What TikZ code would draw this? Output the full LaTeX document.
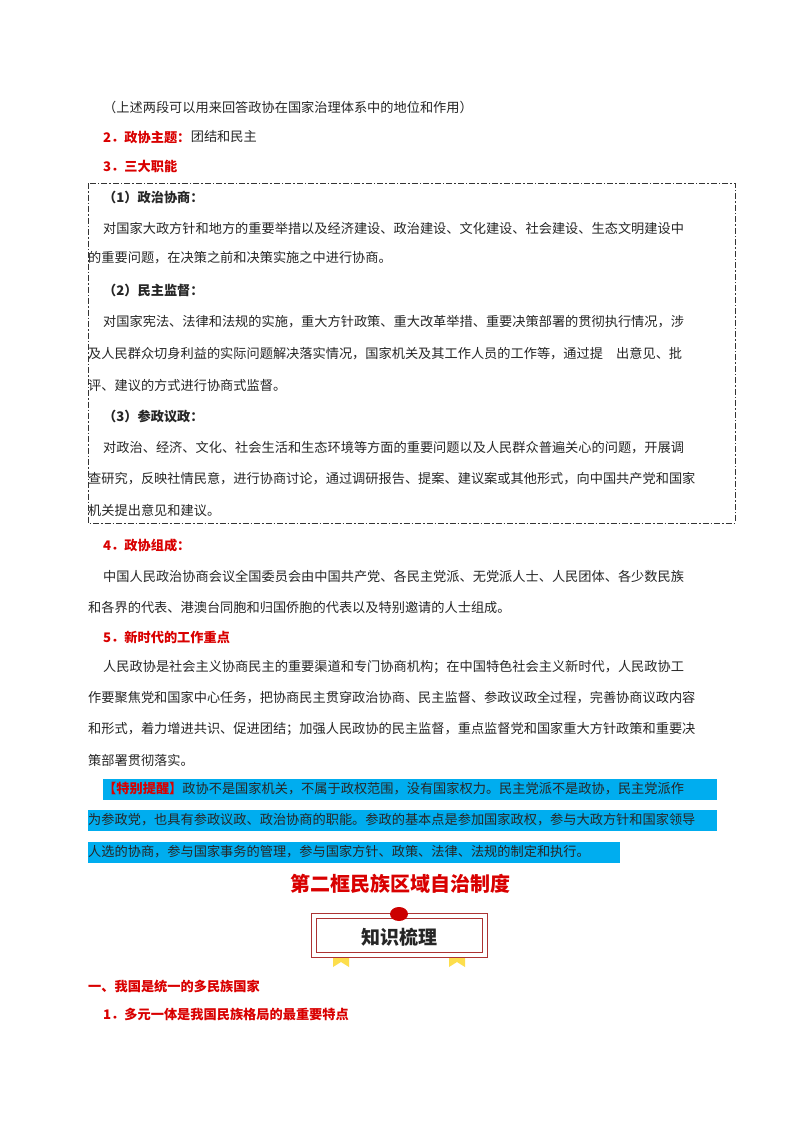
\documentclass[tikz,border=0pt]{standalone}
\usepackage{fontspec}
\setmainfont{Noto Sans CJK SC}
\begin{document}
\begin{tikzpicture}[x=1pt,y=-1pt,
  txt/.style={anchor=west,inner sep=0pt,font=\fontsize{13.2}{14}\selectfont,text=black!85},
  rd/.style={txt,text=red!85!black,font=\fontsize{13.2}{14}\selectfont\bfseries},
  hl/.style={fill=cyan}]
\useasboundingbox[fill=white] (0,0) rectangle (800,1132);
\node[txt] (l0) at (103,107) {（上述两段可以用来回答政协在国家治理体系中的地位和作用）};
\node[rd] (h2) at (103,137) {2．政协主题：};
\node[txt] (h2b) at (h2.east) {团结和民主};
\node[rd] (h3) at (103,166) {3．三大职能};
\draw[black!80,dash pattern=on 6pt off 2pt on 1.5pt off 2pt,line width=0.8pt] (88,183) rectangle (735,523);
\node[txt,font=\fontsize{13.2}{14}\selectfont\bfseries] (a1) at (103,197) {（1）政治协商：};
\node[txt] (a2) at (103,228) {对国家大政方针和地方的重要举措以及经济建设、政治建设、文化建设、社会建设、生态文明建设中};
\node[txt] (a3) at (88,258) {的重要问题，在决策之前和决策实施之中进行协商。};
\node[txt,font=\fontsize{13.2}{14}\selectfont\bfseries] (b1) at (103,290) {（2）民主监督：};
\node[txt] (b2) at (103,322) {对国家宪法、法律和法规的实施，重大方针政策、重大改革举措、重要决策部署的贯彻执行情况，涉};
\node[txt] (b3) at (88,354) {及人民群众切身利益的实际问题解决落实情况，国家机关及其工作人员的工作等，通过提\quad 出意见、批};
\node[txt] (b4) at (88,385) {评、建议的方式进行协商式监督。};
\node[txt,font=\fontsize{13.2}{14}\selectfont\bfseries] (c1) at (103,416) {（3）参政议政：};
\node[txt] (c2) at (103,448) {对政治、经济、文化、社会生活和生态环境等方面的重要问题以及人民群众普遍关心的问题，开展调};
\node[txt] (c3) at (88,479) {查研究，反映社情民意，进行协商讨论，通过调研报告、提案、建议案或其他形式，向中国共产党和国家};
\node[txt] (c4) at (88,510) {机关提出意见和建议。};
\node[rd] (h4) at (103,545) {4．政协组成：};
\node[txt] (d1) at (103,576) {中国人民政治协商会议全国委员会由中国共产党、各民主党派、无党派人士、人民团体、各少数民族};
\node[txt] (d2) at (88,607) {和各界的代表、港澳台同胞和归国侨胞的代表以及特别邀请的人士组成。};
\node[rd] (h5) at (103,637) {5．新时代的工作重点};
\node[txt] (e1) at (103,667) {人民政协是社会主义协商民主的重要渠道和专门协商机构；在中国特色社会主义新时代，人民政协工};
\node[txt] (e2) at (88,698) {作要聚焦党和国家中心任务，把协商民主贯穿政治协商、民主监督、参政议政全过程，完善协商议政内容};
\node[txt] (e3) at (88,729) {和形式，着力增进共识、促进团结；加强人民政协的民主监督，重点监督党和国家重大方针政策和重要决};
\node[txt] (e4) at (88,760) {策部署贯彻落实。};
\fill[cyan] (103,779) rectangle (717,800);
\fill[cyan] (88,810) rectangle (717,831);
\fill[cyan] (88,842) rectangle (620,863);
\node[txt] (f1) at (103,789) {\textcolor{red!85!black}{\bfseries 【特别提醒】}政协不是国家机关，不属于政权范围，没有国家权力。民主党派不是政协，民主党派作};
\node[txt] (f2) at (88,820) {为参政党，也具有参政议政、政治协商的职能。参政的基本点是参加国家政权，参与大政方针和国家领导};
\node[txt] (f3) at (88,852) {人选的协商，参与国家事务的管理，参与国家方针、政策、法律、法规的制定和执行。};
\node[inner sep=0pt,text=red!85!black,font=\fontsize{20}{22}\selectfont\bfseries] (t) at (400,884) {第二框民族区域自治制度};
% badge
\fill[yellow!70!orange!70] (333,950) -- (349,950) -- (349,967) -- (341,962) -- (333,967) -- cycle;
\fill[yellow!70!orange!70] (449,950) -- (465,950) -- (465,967) -- (457,962) -- (449,967) -- cycle;
\draw[red!60!black!80,fill=white,line width=0.8pt] (311,913) rectangle (487,957);
\draw[red!60!black!80,line width=0.6pt] (316,918) rectangle (482,952);
\fill[red!80!black] (399,914) ellipse (9 and 7);
\node[inner sep=0pt,text=black!85,font=\fontsize{19}{20}\selectfont\bfseries] (bt) at (399,937) {知识梳理};
\node[rd] (s1) at (88,986) {一、我国是统一的多民族国家};
\node[rd] (s2) at (103,1014) {1．多元一体是我国民族格局的最重要特点};
\end{tikzpicture}
\end{document}
